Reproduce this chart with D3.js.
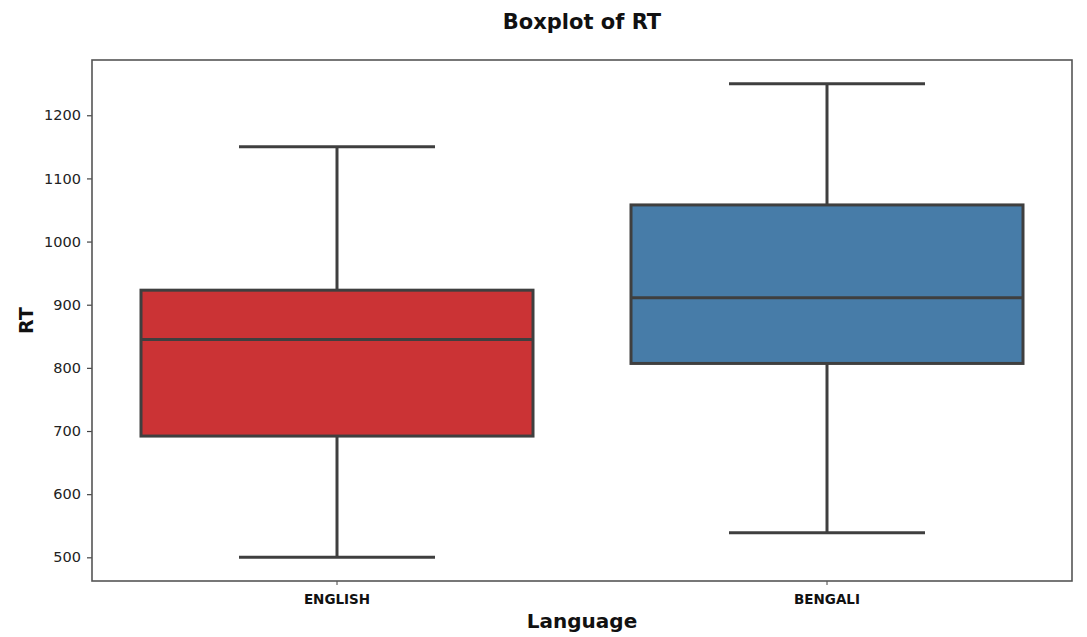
<!DOCTYPE html>
<html>
<head>
<meta charset="utf-8">
<script src="https://cdn.jsdelivr.net/npm/d3@7"></script>
<style>
  html, body { margin: 0; padding: 0; background: #fff; }
  svg { display: block; font-family: "DejaVu Sans", sans-serif; }
</style>
</head>
<body>
<svg id="chart" width="1087" height="637"></svg>
<script>
// Box summaries of response time (RT) per language
const languages = ["ENGLISH", "BENGALI"];
const whiskerLow = [500, 539];
const quartile1 = [692, 807];
const medians = [845, 911];
const quartile3 = [923, 1058];
const whiskerHigh = [1150, 1250];
const boxColors = ["#cb3335", "#477ca8"];
const yTicks = [500, 600, 700, 800, 900, 1000, 1100, 1200];

const width = 1087, height = 637;
const margin = { top: 60, right: 15, bottom: 56, left: 92 };
const svg = d3.select("#chart");

const x = d3.scaleBand()
  .domain(languages)
  .range([margin.left, width - margin.right])
  .paddingInner(0.2)
  .paddingOuter(0.1);

const y = d3.scaleLinear()
  .domain([462.5, 1287.5])
  .range([height - margin.bottom, margin.top]);

const lineColor = "#3f3f3f";

// Axes
const yAxis = svg.append("g")
  .attr("transform", `translate(${margin.left},0)`)
  .call(d3.axisLeft(y).tickValues(yTicks).tickFormat(d3.format("d")).tickSize(5).tickPadding(6));
yAxis.selectAll("text").attr("font-size", 14.5).attr("fill", "#222").attr("font-family", "DejaVu Sans");
yAxis.selectAll("line").attr("stroke", "#444").attr("stroke-width", 1.2);
yAxis.select(".domain").remove();

const xAxis = svg.append("g")
  .attr("transform", `translate(0,${height - margin.bottom})`)
  .call(d3.axisBottom(x).tickSize(4).tickPadding(9));
xAxis.selectAll("text").attr("font-size", 13.5).attr("font-weight", "bold").attr("fill", "#111").attr("font-family", "DejaVu Sans");
xAxis.selectAll("line").attr("stroke", "#444").attr("stroke-width", 1);
xAxis.select(".domain").remove();

// Boxes
const stats = languages.map((name, i) => ({
  name, lo: whiskerLow[i], q1: quartile1[i], med: medians[i], q3: quartile3[i], hi: whiskerHigh[i], color: boxColors[i]
}));

const g = svg.append("g");
stats.forEach(d => {
  const x0 = x(d.name), bw = x.bandwidth(), cx = x0 + bw / 2;
  const capHalf = bw / 4;
  // whiskers
  g.append("line").attr("x1", cx).attr("x2", cx).attr("y1", y(d.q3)).attr("y2", y(d.hi))
    .attr("stroke", lineColor).attr("stroke-width", 3);
  g.append("line").attr("x1", cx).attr("x2", cx).attr("y1", y(d.q1)).attr("y2", y(d.lo))
    .attr("stroke", lineColor).attr("stroke-width", 3);
  // caps
  [d.lo, d.hi].forEach(v => {
    g.append("line").attr("x1", cx - capHalf).attr("x2", cx + capHalf).attr("y1", y(v)).attr("y2", y(v))
      .attr("stroke", lineColor).attr("stroke-width", 3);
  });
  // box
  g.append("rect").attr("x", x0).attr("width", bw)
    .attr("y", y(d.q3)).attr("height", y(d.q1) - y(d.q3))
    .attr("fill", d.color).attr("stroke", lineColor).attr("stroke-width", 3);
  // median
  g.append("line").attr("x1", x0).attr("x2", x0 + bw).attr("y1", y(d.med)).attr("y2", y(d.med))
    .attr("stroke", lineColor).attr("stroke-width", 3);
});

// Frame
svg.append("rect")
  .attr("x", margin.left).attr("y", margin.top)
  .attr("width", width - margin.left - margin.right)
  .attr("height", height - margin.top - margin.bottom)
  .attr("fill", "none").attr("stroke", "#555").attr("stroke-width", 1.6);

// Titles
svg.append("text")
  .attr("x", (margin.left + width - margin.right) / 2).attr("y", 29)
  .attr("text-anchor", "middle").attr("font-size", 21).attr("font-weight", "bold").attr("fill", "#111")
  .text("Boxplot of RT");

svg.append("text")
  .attr("x", (margin.left + width - margin.right) / 2).attr("y", 628)
  .attr("text-anchor", "middle").attr("font-size", 20).attr("font-weight", "bold").attr("fill", "#111")
  .text("Language");

svg.append("text")
  .attr("transform", `translate(33,${(margin.top + height - margin.bottom) / 2}) rotate(-90)`)
  .attr("text-anchor", "middle").attr("font-size", 19).attr("font-weight", "bold").attr("fill", "#111")
  .text("RT");
</script>
</body>
</html>
